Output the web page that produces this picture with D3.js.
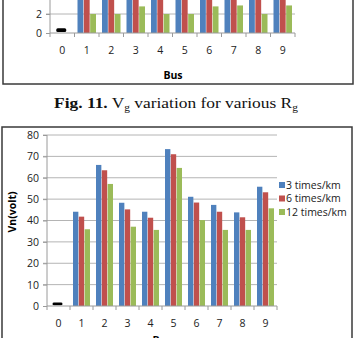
<!DOCTYPE html>
<html>
<head>
<meta charset="utf-8">
<script src="https://cdn.jsdelivr.net/npm/d3@7"></script>
<style>
  body { margin: 0; background: #fff; }
  svg { display: block; font-family: "Open Sans", sans-serif; }
</style>
</head>
<body>
<div id="area"></div>
<script>
// bus numbers (categories)
var buses = ["0", "1", "2", "3", "4", "5", "6", "7", "8", "9"];
var seriesNames = ["3 times/km", "6 times/km", "12 times/km"];
var colors = ["#4F81BD", "#C0504D", "#9BBB59"];

// Fig. 12 - Vn(volt), buses 1..9
var vn3  = [44.1, 66.0, 48.3, 44.1, 73.4, 51.1, 47.3, 43.8, 55.8];
var vn6  = [41.8, 63.5, 45.2, 41.3, 71.0, 48.4, 44.1, 41.5, 53.2];
var vn12 = [35.9, 57.1, 37.1, 35.6, 64.6, 40.2, 35.6, 35.6, 45.7];
var bus0Vn = 1.6;
var vnTicks = [0, 10, 20, 30, 40, 50, 60, 70, 80];

// Fig. 11 (only its lower part is visible) - Vg
var vg3  = [8, 8, 8, 8, 8, 8, 8, 8, 8];
var vg6  = [7.5, 7.5, 7.5, 7.5, 7.5, 7.5, 7.5, 7.5, 7.5];
var vg12 = [2.0, 2.0, 2.8, 2.0, 2.0, 2.8, 2.9, 2.0, 2.9];
var bus0Vg = 0.5;
var vgTicks = [0, 2];

var W = 355, H = 338;
var svg = d3.select('#area').append('svg')
            .attr('width', W)
            .attr('height', H);

function drawChart(opt) {
    var g = svg.append('g');
    var x0 = d3.scaleBand().domain(buses).range([opt.left, opt.right]).padding(0);
    var x1 = d3.scaleBand().domain(d3.range(3))
               .range([3, x0.bandwidth() - 3]).paddingInner(0.08);
    var y = d3.scaleLinear().domain(opt.domain).range(opt.yRange);

    // gridlines
    g.selectAll('.grid').data(opt.ticks.filter(function(d) { return d > 0; }))
     .enter().append('line')
     .attr('x1', opt.left - 4).attr('x2', opt.right)
     .attr('y1', function(d) { return y(d); }).attr('y2', function(d) { return y(d); })
     .attr('stroke', '#b4b4b4').attr('stroke-width', 1);

    // bars
    opt.series.forEach(function(vals, si) {
        g.selectAll('.s' + si).data(vals).enter().append('rect')
         .attr('x', function(d, i) { return x0(buses[i + 1]) + x1(si); })
         .attr('width', x1.bandwidth())
         .attr('y', function(d) { return y(d); })
         .attr('height', function(d) { return y(0) - y(d); })
         .attr('fill', colors[si]);
    });

    // bus 0 black mark
    g.append('rect')
     .attr('x', x0('0') + x0.bandwidth() / 2 - 6)
     .attr('width', 10)
     .attr('y', y(opt.bus0))
     .attr('height', Math.max(2.5, y(opt.bus0 * 0.2) - y(opt.bus0)))
     .attr('rx', 1.5)
     .attr('fill', '#000');

    // axes
    var xAxis = d3.axisBottom(x0).tickSize(0).tickPadding(opt.tickPad);
    var xg = g.append('g').attr('transform', 'translate(0,' + y(0) + ')').call(xAxis);
    xg.select('.domain').remove();
    xg.selectAll('text').attr('font-size', '10.5px').attr('fill', '#222')
      .attr('font-family', '"Open Sans", sans-serif');
    g.append('line').attr('x1', opt.left).attr('x2', opt.right)
     .attr('y1', y(0)).attr('y2', y(0)).attr('stroke', '#9a9a9a');
    g.selectAll('.xt').data(d3.range(buses.length + 1)).enter().append('line')
     .attr('x1', function(i) { return opt.left + i * x0.step(); })
     .attr('x2', function(i) { return opt.left + i * x0.step(); })
     .attr('y1', y(0)).attr('y2', y(0) + 4)
     .attr('stroke', '#9a9a9a');

    var yAxis = d3.axisLeft(y).tickValues(opt.ticks).tickFormat(d3.format('d'))
                  .tickSize(4).tickPadding(4);
    var yg = g.append('g').attr('transform', 'translate(' + opt.left + ',0)').call(yAxis);
    yg.select('.domain').attr('stroke', '#9a9a9a')
      .attr('d', 'M0,' + opt.axisTop + 'V' + y(0));
    yg.selectAll('.tick line').attr('stroke', '#9a9a9a');
    yg.selectAll('text').attr('font-size', '10.5px').attr('fill', '#222')
      .attr('font-family', '"Open Sans", sans-serif');
    return { x0: x0, y: y };
}

// ---- Fig. 11 remains (top) ----
svg.append('rect').attr('x', 3).attr('y', -20).attr('width', 350).attr('height', 104)
   .attr('fill', 'none').attr('stroke', '#3a3a3a').attr('stroke-width', 1.5);
drawChart({
    left: 50, right: 295, domain: [0, 2], yRange: [33, 14], axisTop: 0,
    ticks: vgTicks, series: [vg3, vg6, vg12], bus0: bus0Vg, tickPad: 14
});
svg.append('text').attr('x', 173).attr('y', 79).attr('text-anchor', 'middle')
   .attr('font-size', '10.5px').attr('font-weight', 'bold').text('Bus');

// caption (slightly stretched horizontally, as in the scan)
var cap = svg.append('g').attr('transform', 'translate(176,108) scale(1.2,1)')
             .append('text').attr('text-anchor', 'middle')
             .attr('font-family', '"Liberation Serif", "Times New Roman", serif')
             .attr('font-size', '14.5px').attr('fill', '#111');
cap.append('tspan').attr('font-weight', 'bold').text('Fig. 11.');
cap.append('tspan').text(' V');
cap.append('tspan').attr('font-size', '9.5px').attr('dy', 3).text('g');
cap.append('tspan').attr('dy', -3).text(' variation for various R');
cap.append('tspan').attr('font-size', '9.5px').attr('dy', 3).text('g');

// ---- Fig. 12 (main) ----
svg.append('rect').attr('x', 2).attr('y', 127).attr('width', 350).attr('height', 240)
   .attr('fill', 'none').attr('stroke', '#3a3a3a').attr('stroke-width', 1.5);
drawChart({
    left: 47, right: 277, domain: [0, 80], yRange: [306, 135], axisTop: 135,
    ticks: vnTicks, series: [vn3, vn6, vn12], bus0: bus0Vn, tickPad: 14
});

svg.append('text')
   .attr('transform', 'translate(16,212) rotate(-90)')
   .attr('text-anchor', 'middle').attr('font-size', '10.5px').attr('font-weight', 'bold')
   .text('Vn(volt)');
svg.append('text').attr('x', 162).attr('y', 344).attr('text-anchor', 'middle')
   .attr('font-size', '10.5px').attr('font-weight', 'bold').text('Bus');

// legend
var leg = svg.append('g').attr('transform', 'translate(279,185)');
seriesNames.forEach(function(name, i) {
    leg.append('rect').attr('x', 0).attr('y', i * 13.5 - 3).attr('width', 6).attr('height', 6)
       .attr('fill', colors[i]);
    leg.append('text').attr('x', 7).attr('y', i * 13.5 + 3.8)
       .attr('font-size', '10.5px').attr('fill', '#222').text(name);
});
</script>
</body>
</html>
